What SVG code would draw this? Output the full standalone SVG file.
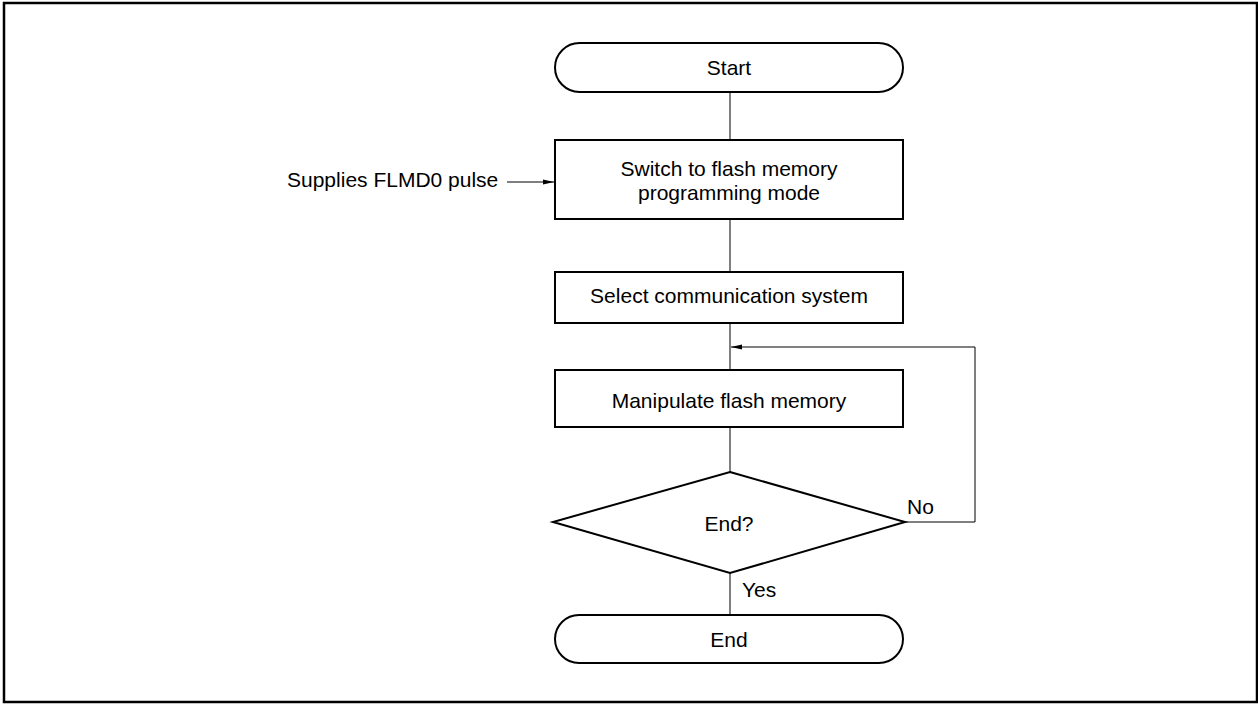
<svg xmlns="http://www.w3.org/2000/svg" width="1258" height="704" viewBox="0 0 1258 704">
<style>
.n{fill:#fff;stroke:#000;stroke-width:2}
.t{font-family:"Liberation Sans",Arial,sans-serif;font-size:21px;fill:#000}
.c{text-anchor:middle}
.e{fill:none;stroke:#000;stroke-width:1}
</style>
<defs>
<marker id="a" markerWidth="11" markerHeight="6" refX="11" refY="3" orient="auto" markerUnits="userSpaceOnUse">
<path d="M0,0.5 L11,3 L0,5.5 Z" fill="#000"/>
</marker>
</defs>
<rect x="4" y="3" width="1253" height="699" fill="#fff" stroke="#000" stroke-width="2.5"/>
<g id="connectors">
<line class="e" x1="730" y1="92" x2="730" y2="140"/>
<line class="e" x1="730" y1="219" x2="730" y2="272"/>
<line class="e" x1="730" y1="323" x2="730" y2="370"/>
<line class="e" x1="730" y1="427" x2="730" y2="472"/>
<line class="e" x1="730" y1="573" x2="730" y2="615"/>
<polyline class="e" points="905,522 975,522 975,347 731,347" marker-end="url(#a)"/>
<line class="e" x1="507" y1="182" x2="554" y2="182" marker-end="url(#a)"/>
<text class="t" x="907" y="514">No</text>
<text class="t" x="742" y="597">Yes</text>
<text class="t" x="287" y="187">Supplies FLMD0 pulse</text>
</g>
<g id="start">
<rect class="n" x="555" y="43" width="348" height="49" rx="24.5"/>
<text class="t c" x="729" y="75">Start</text>
</g>
<g id="switch">
<rect class="n" x="555" y="140" width="348" height="79"/>
<text class="t c" x="729" y="176">Switch to flash memory</text>
<text class="t c" x="729" y="200">programming mode</text>
</g>
<g id="select">
<rect class="n" x="555" y="272" width="348" height="51"/>
<text class="t c" x="729" y="303">Select communication system</text>
</g>
<g id="manipulate">
<rect class="n" x="555" y="370" width="348" height="57"/>
<text class="t c" x="729" y="408">Manipulate flash memory</text>
</g>
<g id="decision">
<polygon class="n" points="730,472 905,522 730,573 553,522"/>
<text class="t c" x="729" y="531">End?</text>
</g>
<g id="end">
<rect class="n" x="555" y="615" width="348" height="48" rx="24"/>
<text class="t c" x="729" y="647">End</text>
</g>
</svg>
